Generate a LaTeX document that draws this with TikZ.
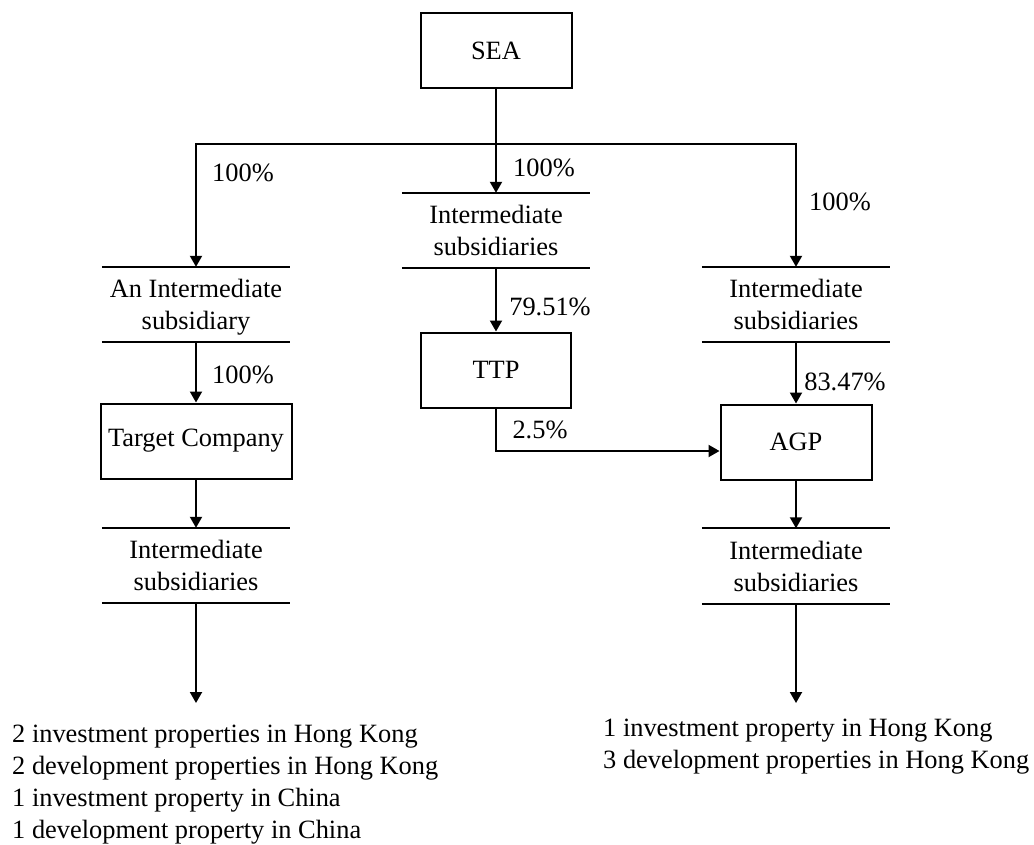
\documentclass[tikz,border=0pt]{standalone}
\usepackage{fontspec}
\setmainfont{Liberation Serif}
\usetikzlibrary{arrows.meta,calc}
\begin{document}
\begin{tikzpicture}[x=1pt,y=-1pt,
  every node/.style={font=\fontsize{26.4}{32}\selectfont, inner sep=0pt},
  conn/.style={line width=2pt},
  arr/.style={conn,-{Triangle[width=12pt,length=11pt]}},
  boxnode/.style={draw, line width=2pt, minimum height=75pt, align=center},
  barnode/.style={minimum width=188pt, minimum height=75pt, text depth=0pt, align=center},
  barline/.style={line width=2pt},
  pct/.style={anchor=center}
]
\useasboundingbox (0,0) rectangle (1034,844);

% boxes
\node[boxnode, minimum width=151pt] (sea) at (496,50.5) {SEA};
\node[boxnode, minimum width=150pt] (ttp) at (496,370) {TTP};
\node[boxnode, minimum width=191pt] (tc) at (196,441) {Target Company};
\node[boxnode, minimum width=151pt] (agp) at (796,442) {AGP};

% bars
\node[barnode] (cb) at (496,230.5) {Intermediate\\subsidiaries};
\node[barnode] (lb1) at (196,304.5) {An Intermediate\\subsidiary};
\node[barnode] (lb2) at (196,565.5) {Intermediate\\subsidiaries};
\node[barnode] (rb1) at (796,304.5) {Intermediate\\subsidiaries};
\node[barnode] (rb2) at (796,566) {Intermediate\\subsidiaries};
\foreach \b in {cb,lb1,lb2,rb1,rb2}{
  \draw[barline] (\b.north west) -- (\b.north east);
  \draw[barline] (\b.south west) -- (\b.south east);
}

% property lists
\node[anchor=north west, align=left] (lp) at (12,725) {2 investment properties in Hong Kong\\2 development properties in Hong Kong\\1 investment property in China\\1 development property in China};
\node[anchor=north west, align=left] (rp) at (603,719) {1 investment property in Hong Kong\\3 development properties in Hong Kong};
\coordinate (lpt) at (196,703);
\coordinate (rpt) at (796,703);

% connectors
\coordinate (j) at (496,144);
\draw[arr] (sea.south) -- (cb.north);
\draw[arr] (j) -| (lb1.north);
\draw[arr] (j) -| (rb1.north);
\draw[arr] (cb.south) -- (ttp.north);
\draw[arr] (lb1.south) -- (tc.north);
\draw[arr] (rb1.south) -- (agp.north);
\draw[arr] (tc.south) -- (lb2.north);
\draw[arr] (agp.south) -- (rb2.north);
\draw[arr] (lb2.south) -- (lpt);
\draw[arr] (rb2.south) -- (rpt);
\draw[arr] (ttp.south) |- ($(agp.west)+(0,9)$);

% percentages
\node[pct] (p1) at (544,168) {100\%};
\node[pct] (p2) at (243,173) {100\%};
\node[pct] (p3) at (840,202) {100\%};
\node[pct] (p4) at (550,307) {79.51\%};
\node[pct] (p5) at (243,375) {100\%};
\node[pct] (p6) at (845,382) {83.47\%};
\node[pct] (p7) at (540,430) {2.5\%};
\end{tikzpicture}
\end{document}
